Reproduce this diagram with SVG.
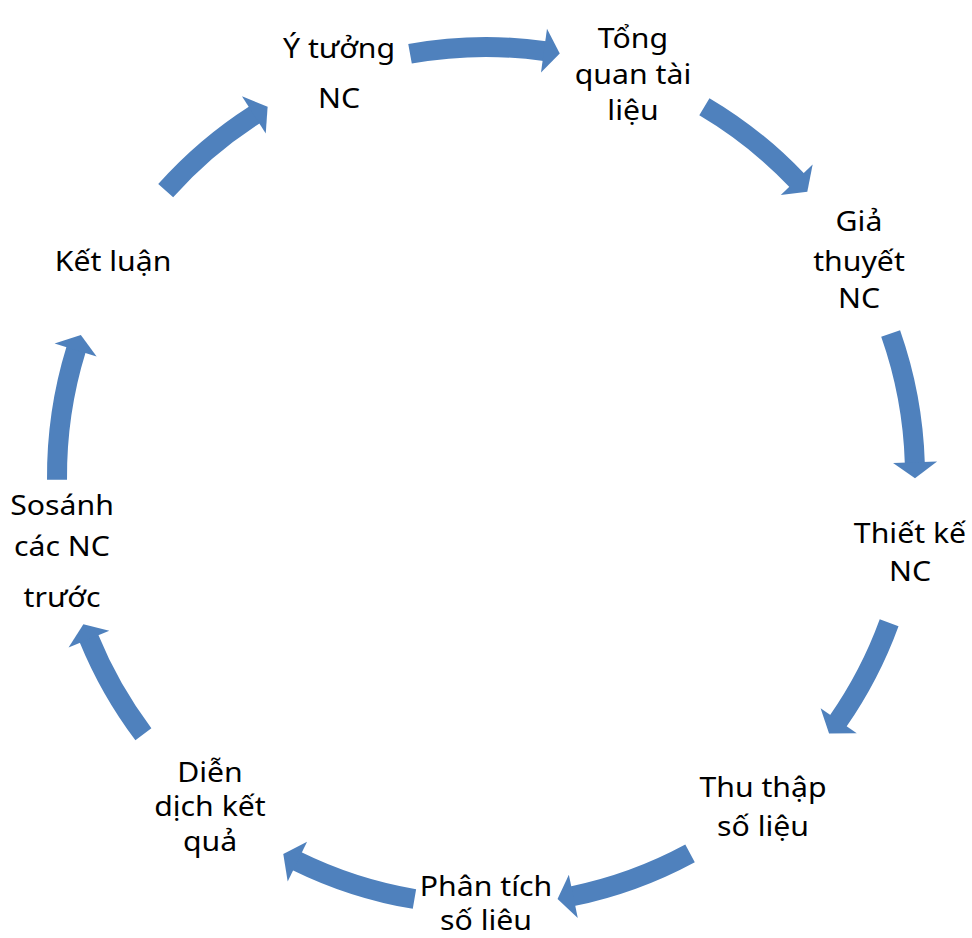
<svg xmlns="http://www.w3.org/2000/svg" xmlns:xlink="http://www.w3.org/1999/xlink" width="972" height="938" viewBox="0 0 972 938">
<style>
.band{fill:none;stroke:#4F81BD;stroke-width:20;stroke-linecap:butt}
.head{fill:#4F81BD;stroke:none}
.lbl{font-family:"Noto Sans","Liberation Sans",sans-serif;font-size:27px;fill:#000;text-anchor:middle}
</style>
<defs>
<path id="arc" d="M0,-429 A429,429 0 0 1 0,429"/>
<polygon id="hd" points="-16.8,-451 0,-429 -15.2,-407"/>
</defs>
<rect width="972" height="938" fill="#fff"/>
<g id="connectors" transform="translate(486 476)">
<g id="a1"><use xlink:href="#arc" class="band" transform="rotate(-10.2)" stroke-dasharray="135.5 3000"/><use xlink:href="#hd" class="head" transform="rotate(9.9)"/></g>
<g id="a2"><use xlink:href="#arc" class="band" transform="rotate(30.6)" stroke-dasharray="119 3000"/><use xlink:href="#hd" class="head" transform="rotate(48.5)"/></g>
<g id="a3"><use xlink:href="#arc" class="band" transform="rotate(70.6)" stroke-dasharray="132.5 3000"/><use xlink:href="#hd" class="head" transform="rotate(90.3)"/></g>
<g id="a4"><use xlink:href="#arc" class="band" transform="rotate(110)" stroke-dasharray="111.6 3000"/><use xlink:href="#hd" class="head" transform="rotate(126.9)"/></g>
<g id="a5"><use xlink:href="#arc" class="band" transform="rotate(151.6)" stroke-dasharray="125.8 3000"/><use xlink:href="#hd" class="head" transform="rotate(170.4)"/></g>
<g id="a6"><use xlink:href="#arc" class="band" transform="rotate(189.6)" stroke-dasharray="124.3 3000"/><use xlink:href="#hd" class="head" transform="rotate(208.2)"/></g>
<g id="a7"><use xlink:href="#arc" class="band" transform="rotate(233)" stroke-dasharray="110.8 3000"/><use xlink:href="#hd" class="head" transform="rotate(249.8)"/></g>
<g id="a8"><use xlink:href="#arc" class="band" transform="rotate(269.5)" stroke-dasharray="132.5 3000"/><use xlink:href="#hd" class="head" transform="rotate(289.2)"/></g>
<g id="a9"><use xlink:href="#arc" class="band" transform="rotate(311.7)" stroke-dasharray="117.6 3000"/><use xlink:href="#hd" class="head" transform="rotate(329.4)"/></g>
</g>
<g id="n1" transform="translate(339 0) scale(1.12 1)"><text class="lbl" x="0" y="58">Ý tưởng</text><text class="lbl" x="0" y="108">NC</text></g>
<g id="n2" transform="translate(633 0) scale(1.12 1)"><text class="lbl" x="0" y="48">Tổng</text><text class="lbl" x="0" y="84">quan tài</text><text class="lbl" x="0" y="120">liệu</text></g>
<g id="n3" transform="translate(859 0) scale(1.12 1)"><text class="lbl" x="0" y="231">Giả</text><text class="lbl" x="0" y="271">thuyết</text><text class="lbl" x="0" y="308">NC</text></g>
<g id="n4" transform="translate(910 0) scale(1.12 1)"><text class="lbl" x="0" y="543">Thiết kế</text><text class="lbl" x="0" y="581">NC</text></g>
<g id="n5" transform="translate(763 0) scale(1.12 1)"><text class="lbl" x="0" y="797">Thu thập</text><text class="lbl" x="0" y="836">số liệu</text></g>
<g id="n6" transform="translate(486 0) scale(1.12 1)"><text class="lbl" x="0" y="896">Phân tích</text><text class="lbl" x="0" y="930">số liêu</text></g>
<g id="n7" transform="translate(210 0) scale(1.12 1)"><text class="lbl" x="0" y="782">Diễn</text><text class="lbl" x="0" y="816">dịch kết</text><text class="lbl" x="0" y="851">quả</text></g>
<g id="n8" transform="translate(62 0) scale(1.12 1)"><text class="lbl" x="0" y="515">Sosánh</text><text class="lbl" x="0" y="556">các NC</text><text class="lbl" x="0" y="607">trước</text></g>
<g id="n9" transform="translate(113 0) scale(1.12 1)"><text class="lbl" x="0" y="271">Kết luận</text></g>
</svg>
